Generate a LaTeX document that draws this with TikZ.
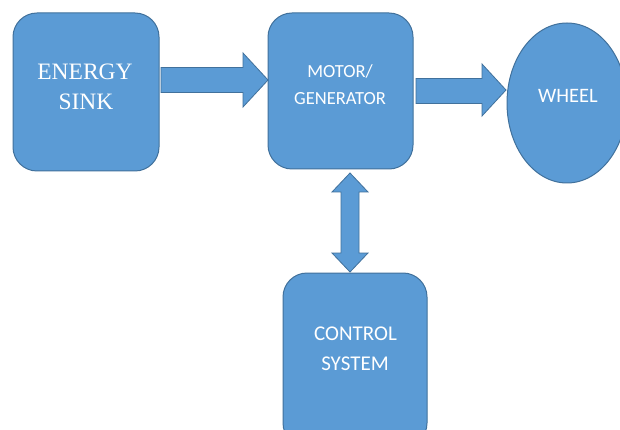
\documentclass[tikz,border=0pt]{standalone}
\usepackage{fontspec}
\setmainfont{Carlito}
\newfontfamily\timesf{Liberation Serif}
\usetikzlibrary{shapes.geometric,calc}
\definecolor{fillblue}{HTML}{5B9BD5}
\definecolor{edgeblue}{HTML}{41719C}
\begin{document}
\begin{tikzpicture}[x=1pt,y=-1pt,
  blk/.style={draw=edgeblue,fill=fillblue,line width=1pt,rounded corners=24pt,inner sep=0pt,outer sep=0pt},
  lbl/.style={text=white,inner sep=0pt,anchor=base},
  barrow/.style={draw=edgeblue,fill=fillblue,line width=0.8pt,line join=miter}]
\clip (0,0) rectangle (620,430);
\fill[white] (0,0) rectangle (620,430);
% blocks
\node[blk,minimum width=146pt,minimum height=158pt] (es) at (86,92) {};
\node[blk,minimum width=145pt,minimum height=156pt] (mg) at (340.5,91) {};
\node[draw=edgeblue,fill=fillblue,line width=1pt,ellipse,inner sep=0pt,outer sep=0pt,minimum width=120pt,minimum height=160pt] (wh) at (567,103) {};
\node[blk,minimum width=144pt,minimum height=174pt] (cs) at (355,360) {};
% labels
\node[lbl,font=\timesf\fontsize{23.5}{28}\selectfont] (es1) at (85,80) {ENERGY};
\node[lbl,font=\timesf\fontsize{23.5}{28}\selectfont] (es2) at (86,110) {SINK};
\node[lbl,font=\fontsize{18.5}{22}\selectfont] (mg1) at (340,78) {MOTOR/};
\node[lbl,font=\fontsize{18.5}{22}\selectfont] (mg2) at (340,105) {GENERATOR};
\node[lbl,font=\fontsize{20.5}{24}\selectfont] (wh1) at (568,103) {WHEEL};
\node[lbl,font=\fontsize{21}{25}\selectfont] (cs1) at (355.5,340) {CONTROL};
\node[lbl,font=\fontsize{21}{25}\selectfont] (cs2) at (355,370) {SYSTEM};
% arrow 1: energy sink -> motor
\coordinate (a1s) at ($(es.east)+(2,-12)$);
\coordinate (a1t) at ($(mg.west)+(0,-11)$);
\draw[barrow] let \p1=(a1s), \p2=(a1t) in
  (\x1,\y1+12.5pt) -- (\x2-25pt,\y1+12.5pt) -- (\x2-25pt,\y2+27pt) -- (\x2,\y2)
  -- (\x2-25pt,\y2-27pt) -- (\x2-25pt,\y1-12.5pt) -- (\x1,\y1-12.5pt) -- cycle;
% arrow 2: motor -> wheel
\coordinate (a2s) at ($(mg.east)+(3,0)$);
\coordinate (a2t) at ($(wh.west)+(-1,-13)$);
\draw[barrow] let \p1=(a2s), \p2=(a2t) in
  (\x1,\y1+12.5pt) -- (\x2-24pt,\y1+12.5pt) -- (\x2-24pt,\y2+26pt) -- (\x2,\y2)
  -- (\x2-24pt,\y2-26pt) -- (\x2-24pt,\y1-12.5pt) -- (\x1,\y1-12.5pt) -- cycle;
% double arrow: motor <-> control
\coordinate (a3t) at ($(mg.south)+(9.5,4)$);
\coordinate (a3b) at ($(cs.north)+(-5,-1)$);
\draw[barrow] let \p1=(a3t), \p2=(a3b) in
  (\x1,\y1) -- (\x1+18pt,\y1-19pt) -- (\x1+9pt,\y1-19pt) -- (\x1+9pt,\y2+19pt)
  -- (\x1+18pt,\y2+19pt) -- (\x1,\y2) -- (\x1-18pt,\y2+19pt) -- (\x1-9pt,\y2+19pt)
  -- (\x1-9pt,\y1-19pt) -- (\x1-18pt,\y1-19pt) -- cycle;
\end{tikzpicture}
\end{document}
